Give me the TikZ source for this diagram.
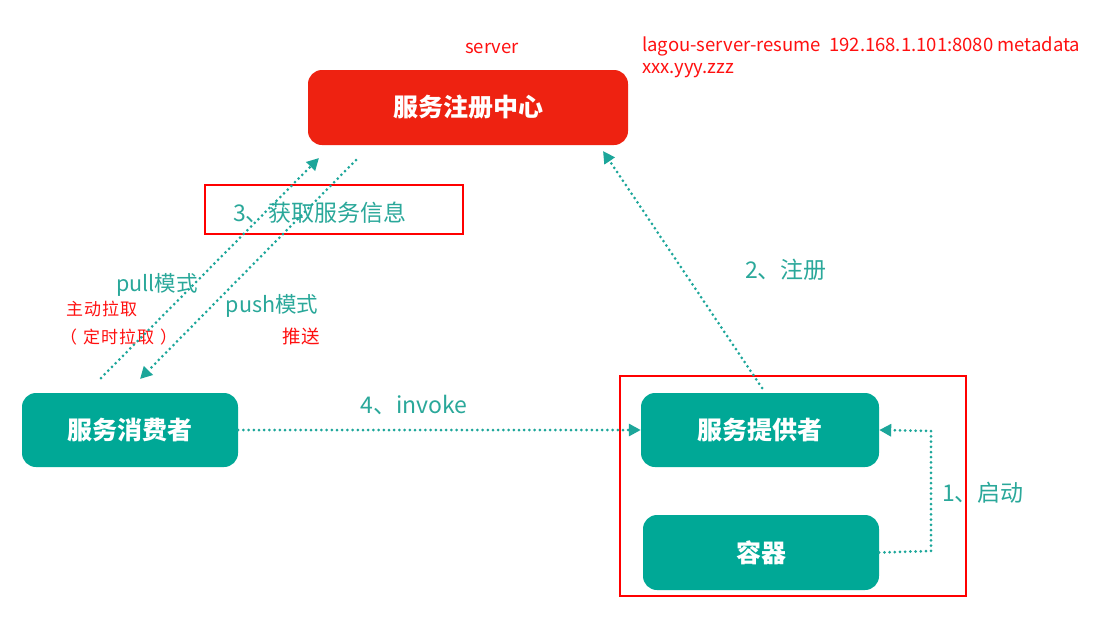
\documentclass[tikz,border=0pt]{standalone}
\usepackage{fontspec}
\setmainfont{Noto Sans CJK SC}
\usetikzlibrary{arrows.meta,positioning}
\definecolor{teal1}{HTML}{00A896}
\definecolor{tealdot}{HTML}{1CA69A}
\definecolor{tealtxt}{HTML}{2AA89A}
\definecolor{regred}{HTML}{EE2211}
\definecolor{lblred}{HTML}{FF1010}
\begin{document}
\begin{tikzpicture}[x=1pt,y=-1pt,
  box/.style={rounded corners=14pt,draw=none,inner sep=0pt,text=white,font=\fontsize{25}{28}\selectfont\bfseries},
  tealbox/.style={box,fill=teal1},
  redbox/.style={box,fill=regred},
  flow/.style={draw=tealdot,line width=3pt,dash pattern=on 0pt off 5.2pt,line cap=round,-{Triangle[length=12pt,width=12pt,line cap=butt]}},
  tlabel/.style={text=tealtxt,font=\fontsize{23}{26}\selectfont,inner sep=0pt},
  plabel/.style={text=tealtxt,font=\fontsize{21.5}{24}\selectfont,inner sep=0pt},
  rlabel/.style={text=lblred,font=\fontsize{18.5}{21}\selectfont,inner sep=0pt},
  slabel/.style={text=lblred,font=\fontsize{17}{20}\selectfont,inner sep=0pt},
  frame/.style={draw=red,line width=1.6pt}
]
\useasboundingbox (0,0) rectangle (1104,619);
\fill[white] (0,0) rectangle (1104,619);
% boxes
\node[redbox,minimum width=320pt,minimum height=75pt] (reg) at (468,107.5) {服务注册中心};
\node[tealbox,minimum width=216pt,minimum height=74pt] (cons) at (130,430) {服务消费者};
\node[tealbox,minimum width=238pt,minimum height=74pt] (prov) at (760,430) {服务提供者};
\node[tealbox,minimum width=236pt,minimum height=75pt] (cont) at (761,552.5) {容器};
% frames
\node[frame,minimum width=346pt,minimum height=220pt,inner sep=0pt] (fr) at (793,486) {};
\node[frame,minimum width=258pt,minimum height=49pt,inner sep=0pt] (info) at (334,209.5) {};
% texts
\node[rlabel] (srv) at (492,48) {server};
\node[rlabel,anchor=west] (meta1) at (642,46) {lagou-server-resume\ \ 192.168.1.101:8080 metadata};
\node[rlabel,anchor=west] (meta2) at (642,71) {xxx.yyy.zzz};
\node[tlabel,anchor=west] (infot) at (233,213) {3、获取服务信息};
\node[plabel] (pull) at (157,285) {pull模式};
\node[slabel,anchor=west] (act) at (66,309) {主\hspace{1pt}动\hspace{1pt}拉\hspace{1pt}取};
\node[slabel,anchor=west] (timed) at (60,337) {（\hspace{6pt}定\hspace{1pt}时\hspace{1pt}拉\hspace{1pt}取\hspace{6pt}）};
\node[plabel] (push) at (272,306) {push模式};
\node[rlabel] (pushcn) at (301,336) {推送};
\node[tlabel] (regl) at (786,270) {2、注册};
\node[tlabel] (inv) at (414,405) {4、invoke};
\node[tlabel] (start) at (983,493) {1、启动};
% connectors
\coordinate (pullS) at (101,378);
\coordinate (pullE) at (319,158);
\coordinate (pushS) at (356,160);
\coordinate (pushE) at (140,379);
\coordinate (regS) at (762,388);
\coordinate (regE) at (603,151);
\coordinate (bend1) at (931,551);
\coordinate (bend2) at (931,431);
\draw[flow] (pullS) -- (pullE);
\draw[flow] (pushS) -- (pushE);
\draw[flow] (regS) -- (regE);
\draw[flow] (cons.east) -- (prov.west);
\draw[flow] (cont.east) -- (bend1) -- (bend2) -- (prov.east);
\end{tikzpicture}
\end{document}
